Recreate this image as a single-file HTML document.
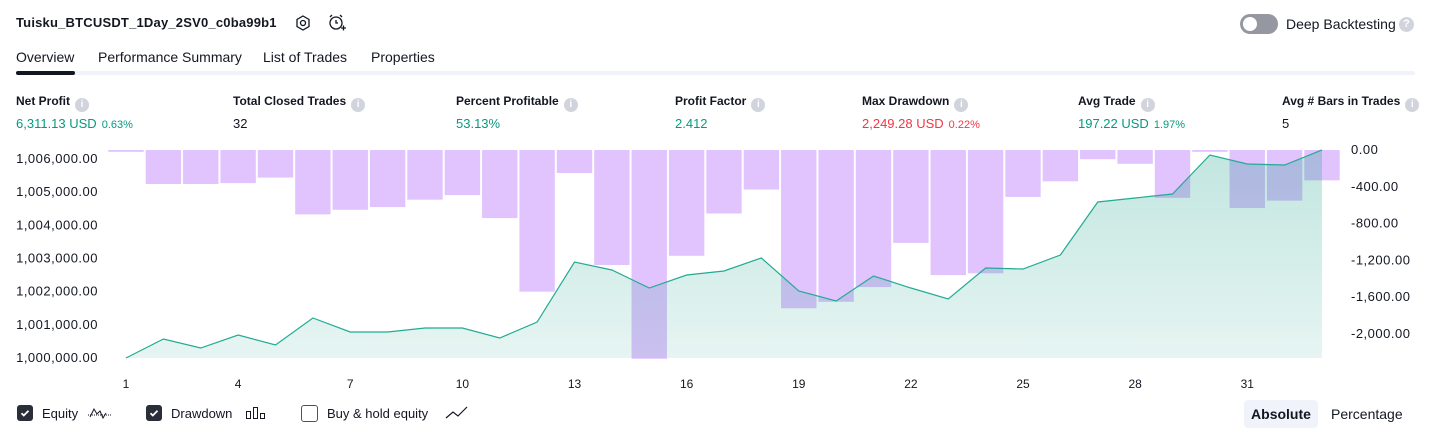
<!DOCTYPE html>
<html><head><meta charset="utf-8">
<style>
body{margin:0;width:1431px;height:438px;background:#fff;font-family:"Liberation Sans",sans-serif;color:#131722;position:relative;overflow:hidden}
.a{position:absolute;white-space:nowrap}
.info{display:inline-block;width:14px;height:14px;border-radius:50%;background:#d1d4dc;color:#fff;font-size:10px;line-height:14px;text-align:center;font-weight:bold;vertical-align:-2px;margin-left:5px}
.lbl{font-size:12px;font-weight:bold;color:#131722}
.val{font-size:13px}
.g{color:#089981}.r{color:#f23645}
.sm{font-size:11px;margin-left:5px}
.tab{font-size:14px;top:49px}
.cb{position:absolute;width:16px;height:16px;border-radius:3px;top:405px}
.lg{font-size:13px;top:406px}
</style></head><body>
<div class="a" style="left:16px;top:15px;font-size:13px;font-weight:bold;letter-spacing:0.2px">Tuisku_BTCUSDT_1Day_2SV0_c0ba99b1</div>
<svg class="a" style="left:294px;top:14px" width="18" height="18"><polygon points="9,2 15,5.5 15,12.5 9,16 3,12.5 3,5.5" fill="none" stroke="#131722" stroke-width="1.3"/><circle cx="9" cy="9" r="2.5" fill="none" stroke="#131722" stroke-width="1.3"/></svg>
<svg class="a" style="left:327px;top:13px" width="20" height="20"><circle cx="9" cy="10" r="6" fill="none" stroke="#131722" stroke-width="1.3"/><path d="M9 7v3h2M3 4l2-2M15 4l-2-2M14 15h5M16.5 12.5v5" fill="none" stroke="#131722" stroke-width="1.3"/></svg>
<div class="a" style="left:1240px;top:14px;width:38px;height:20px;border-radius:10px;background:#9598a1"><div style="position:absolute;left:3px;top:3px;width:14px;height:14px;border-radius:50%;background:#fff"></div></div>
<div class="a" style="left:1286px;top:16px;font-size:14px">Deep Backtesting</div>
<div class="a" style="left:1399px;top:17px;width:15px;height:15px;border-radius:50%;background:#d1d4dc;color:#fff;font-size:11px;line-height:15px;text-align:center;font-weight:bold">?</div>

<div class="a tab" style="left:16px">Overview</div>
<div class="a tab" style="left:98px">Performance Summary</div>
<div class="a tab" style="left:263px">List of Trades</div>
<div class="a tab" style="left:371px">Properties</div>
<div class="a" style="left:16px;top:71px;width:1399px;height:4px;background:#f0f3fa;border-radius:2px"></div>
<div class="a" style="left:16px;top:71px;width:59px;height:4px;background:#131722;border-radius:2px"></div>

<div class="a" style="left:16px;top:94px"><div class="lbl">Net Profit<span class="info">i</span></div><div class="val g" style="margin-top:4px">6,311.13 USD<span class="sm">0.63%</span></div></div>
<div class="a" style="left:233px;top:94px"><div class="lbl">Total Closed Trades<span class="info">i</span></div><div class="val" style="margin-top:4px">32</div></div>
<div class="a" style="left:456px;top:94px"><div class="lbl">Percent Profitable<span class="info">i</span></div><div class="val g" style="margin-top:4px">53.13%</div></div>
<div class="a" style="left:675px;top:94px"><div class="lbl">Profit Factor<span class="info">i</span></div><div class="val g" style="margin-top:4px">2.412</div></div>
<div class="a" style="left:862px;top:94px"><div class="lbl">Max Drawdown<span class="info">i</span></div><div class="val r" style="margin-top:4px">2,249.28 USD<span class="sm">0.22%</span></div></div>
<div class="a" style="left:1078px;top:94px"><div class="lbl">Avg Trade<span class="info">i</span></div><div class="val g" style="margin-top:4px">197.22 USD<span class="sm">1.97%</span></div></div>
<div class="a" style="left:1282px;top:94px"><div class="lbl">Avg # Bars in Trades<span class="info">i</span></div><div class="val" style="margin-top:4px">5</div></div>

<svg class="a" id="chart" style="left:0;top:0" width="1431" height="400">
<defs><linearGradient id="gr" x1="0" y1="0" x2="0" y2="1"><stop offset="0" stop-color="#089981" stop-opacity="0.25"/><stop offset="1" stop-color="#089981" stop-opacity="0.1"/></linearGradient></defs>
</svg>

<div class="cb" style="left:17px;background:#2a2e39"><svg width="16" height="16"><path d="M4.5 8.2l2.3 2.3 4.7-4.7" fill="none" stroke="#fff" stroke-width="1.8"/></svg></div>
<div class="a lg" style="left:42px">Equity</div>
<svg class="a" style="left:87px;top:404px" width="26" height="18"><path d="M1 11h24" stroke="#131722" stroke-dasharray="1 1"/><path d="M3 13l4-8 3 5 3-3 3 7 3-5" fill="none" stroke="#131722"/></svg>
<div class="cb" style="left:146px;background:#2a2e39"><svg width="16" height="16"><path d="M4.5 8.2l2.3 2.3 4.7-4.7" fill="none" stroke="#fff" stroke-width="1.8"/></svg></div>
<div class="a lg" style="left:171px">Drawdown</div>
<svg class="a" style="left:245px;top:405px" width="22" height="16"><rect x="1.5" y="6.5" width="4" height="7" fill="none" stroke="#131722"/><rect x="8.5" y="2.5" width="4" height="11" fill="none" stroke="#131722"/><rect x="15.5" y="8.5" width="4" height="5" fill="none" stroke="#131722"/></svg>
<div class="cb" style="left:301px;border:1px solid #50535e;width:15px;height:15px"></div>
<div class="a lg" style="left:327px">Buy &amp; hold equity</div>
<svg class="a" style="left:445px;top:404px" width="24" height="18"><path d="M1 14l7-6 5 4 9-9" fill="none" stroke="#131722" stroke-width="1.2"/></svg>
<div class="a" style="left:1244px;top:400px;width:74px;height:28px;background:#f0f3fa;border-radius:4px;font-size:14px;font-weight:bold;line-height:28px;text-align:center">Absolute</div>
<div class="a" style="left:1331px;top:406px;font-size:14px">Percentage</div>

<script>
const categories=[1,2,3,4,5,6,7,8,9,10,11,12,13,14,15,16,17,18,19,20,21,22,23,24,25,26,27,28,29,30,31,32,33];
const equityValues=[1000000,1000573,1000301,1000693,1000392,1001206,1000784,1000784,1000904,1000904,1000603,1001085,1002894,1002653,1002110,1002502,1002623,1003015,1002020,1001718,1002472,1002110,1001779,1002713,1002683,1003105,1004703,1004824,1004944,1006120,1005849,1005818,1006271];
const drawdownValues=[-20,-370,-370,-360,-300,-700,-650,-620,-540,-490,-740,-1540,-250,-1250,-2270,-1150,-690,-430,-1720,-1650,-1490,-1010,-1360,-1340,-510,-340,-100,-150,-520,-20,-630,-550,-330];
const leftTicks=[1000000,1001000,1002000,1003000,1004000,1005000,1006000];
const rightTicks=[0,-400,-800,-1200,-1600,-2000];
const xTicks=[1,4,7,10,13,16,19,22,25,28,31];

const NS='http://www.w3.org/2000/svg';
const svg=document.getElementById('chart');
const x=i=>126+(i-1)*37.375;
const yE=v=>358-(v-1000000)*0.03317;
const yD=v=>150-v*0.092;
function mk(t,a){const e=document.createElementNS(NS,t);for(const k in a)e.setAttribute(k,a[k]);svg.appendChild(e);return e;}
categories.forEach((c,i)=>{
  const b=mk('rect',{x:x(c)-17.7,y:150,width:35.4,height:Math.max(1.5,yD(drawdownValues[i])-150),fill:'#e1c4fd'});
  
  
});
let pts=categories.map((c,i)=>x(c)+','+yE(equityValues[i])).join(' ');
const area=mk('polygon',{points:x(1)+','+yE(1000000)+' '+pts+' '+x(33)+','+yE(1000000),fill:'url(#gr)'});


const line=mk('polyline',{points:pts,fill:'none',stroke:'#22ab94','stroke-width':1.2});


leftTicks.forEach(v=>{
  const t=mk('text',{x:98,y:yE(v)+4,'text-anchor':'end','font-size':13,'letter-spacing':0.5,fill:'#131722','font-family':'Liberation Sans'});
  t.textContent=v.toLocaleString('en-US',{minimumFractionDigits:2});
  
  
});
rightTicks.forEach(v=>{
  const t=mk('text',{x:1351,y:yD(v)+4,'font-size':13,'letter-spacing':0.5,fill:'#131722','font-family':'Liberation Sans'});
  t.textContent=v.toLocaleString('en-US',{minimumFractionDigits:2});
  
  
});
xTicks.forEach(v=>{
  const t=mk('text',{x:x(v),y:388,'text-anchor':'middle','font-size':12,fill:'#131722','font-family':'Liberation Sans'});
  t.textContent=v;
  
  
});
</script>
</body></html>
